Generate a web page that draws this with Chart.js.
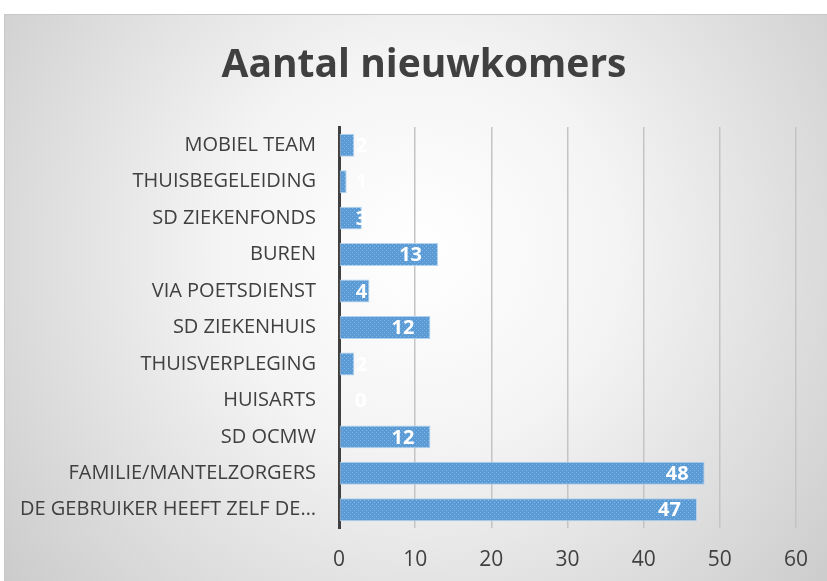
<!DOCTYPE html>
<html>
<head>
<meta charset="utf-8">
<script src="https://cdn.jsdelivr.net/npm/chart.js@4"></script>
<style>
  html, body { margin: 0; padding: 0; background: #ffffff; }
  #wrap { position: relative; width: 827px; height: 581px; }
</style>
</head>
<body>
<div id="wrap"><canvas id="c" width="827" height="581"></canvas></div>
<script>
const chartTitle = "Aantal nieuwkomers";
const categories = [
  "MOBIEL TEAM",
  "THUISBEGELEIDING",
  "SD ZIEKENFONDS",
  "BUREN",
  "VIA POETSDIENST",
  "SD ZIEKENHUIS",
  "THUISVERPLEGING",
  "HUISARTS",
  "SD OCMW",
  "FAMILIE/MANTELZORGERS",
  "DE GEBRUIKER HEEFT ZELF DE…"
];
const values = [2, 1, 3, 13, 4, 12, 2, 0, 12, 48, 47];
const xTicks = [0, 10, 20, 30, 40, 50, 60];

const FONT = "'Open Sans', 'DejaVu Sans', sans-serif";
const TEXT = "#404040";

function makePattern() {
  const p = document.createElement('canvas');
  p.width = 4; p.height = 4;
  const g = p.getContext('2d');
  g.fillStyle = '#5b9bd5';
  g.fillRect(0, 0, 4, 4);
  g.fillStyle = '#86b6e3';
  g.fillRect(0, 0, 1, 1);
  g.fillRect(2, 2, 1, 1);
  return g.createPattern(p, 'repeat');
}
const barFill = makePattern();

const bgPlugin = {
  id: 'bg',
  beforeDraw(chart) {
    const ctx = chart.ctx;
    const x0 = 4, y0 = 14, x1 = chart.width, y1 = chart.height;
    ctx.save();
    const cx = 420, cy = 250;
    const grad = ctx.createRadialGradient(cx, cy, 0, cx, cy, 560);
    grad.addColorStop(0, '#ffffff');
    grad.addColorStop(0.35, '#f4f4f4');
    grad.addColorStop(1, '#c8c8c8');
    ctx.fillStyle = grad;
    ctx.fillRect(x0, y0, x1 - x0, y1 - y0);
    ctx.strokeStyle = '#c8c8c8';
    ctx.lineWidth = 1;
    ctx.beginPath();
    ctx.moveTo(x0 + 0.5, y1);
    ctx.lineTo(x0 + 0.5, y0 + 0.5);
    ctx.lineTo(x1, y0 + 0.5);
    ctx.stroke();
    // title
    ctx.fillStyle = TEXT;
    ctx.font = "bold 39px " + FONT;
    ctx.textAlign = 'center';
    ctx.textBaseline = 'middle';
    ctx.fillText(chartTitle, 424, 66);
    ctx.restore();
  }
};

const labelPlugin = {
  id: 'vlabels',
  afterDatasetsDraw(chart) {
    const ctx = chart.ctx;
    const meta = chart.getDatasetMeta(0);
    ctx.save();
    ctx.font = "bold 20px " + FONT;
    ctx.fillStyle = '#ffffff';
    ctx.textAlign = 'right';
    ctx.textBaseline = 'middle';
    meta.data.forEach((bar, i) => {
      const txt = String(values[i]);
      const w = ctx.measureText(txt).width;
      const right = Math.max(bar.x - 16, bar.base + 16 + w);
      ctx.fillText(txt, right, bar.y + 1);
    });
    ctx.restore();
  }
};

new Chart(document.getElementById('c'), {
  type: 'bar',
  data: {
    labels: categories,
    datasets: [{
      data: values,
      backgroundColor: barFill,
      borderColor: 'rgba(175,208,238,0.95)',
      borderWidth: 1,
      borderSkipped: false,
      barPercentage: 0.63,
      categoryPercentage: 1.0
    }]
  },
  plugins: [bgPlugin, labelPlugin],
  options: {
    indexAxis: 'y',
    responsive: false,
    animation: false,
    devicePixelRatio: 1,
    layout: { padding: { top: 127, right: 30, left: 0, bottom: 0 } },
    plugins: {
      legend: { display: false },
      tooltip: { enabled: false },
      title: { display: false }
    },
    scales: {
      x: {
        type: 'linear',
        min: xTicks[0],
        max: xTicks[xTicks.length - 1],
        afterBuildTicks(scale) { scale.ticks = xTicks.map(v => ({ value: v })); },
        afterFit(scale) { scale.height = 53; },
        grid: {
          color: ctx => (ctx.tick && ctx.tick.value === 0) ? 'rgba(0,0,0,0)' : '#c4c4c4',
          lineWidth: 1.5,
          drawTicks: false
        },
        border: { display: false },
        ticks: {
          color: TEXT,
          font: { family: FONT, size: 21 },
          padding: 19
        }
      },
      y: {
        afterFit(scale) { scale.width = 339; },
        grid: { display: false },
        border: { display: true, color: '#404040', width: 3 },
        ticks: {
          color: TEXT,
          font: { family: FONT, size: 20 },
          padding: 15,
          autoSkip: false
        }
      }
    }
  }
});
</script>
</body>
</html>
